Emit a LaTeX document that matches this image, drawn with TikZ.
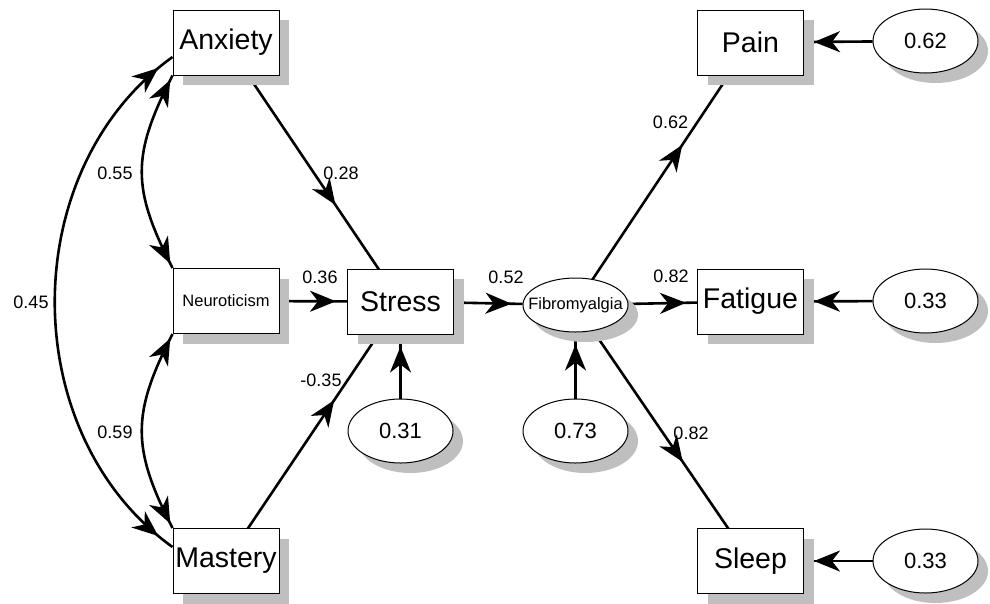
\documentclass[tikz,border=0pt]{standalone}
\usepackage{fontspec}
\setmainfont{Liberation Sans}
\usepackage{tikz}
\usetikzlibrary{arrows.meta,backgrounds,calc,decorations.markings,shadows,shapes.geometric,positioning}

\begin{document}
\begin{tikzpicture}[x=1pt,y=-1pt,>={Stealth[length=26pt,width=21pt,inset=8pt]},
  var/.style={draw,line width=1pt,fill=white,minimum width=106pt,minimum height=65pt,inner sep=0pt,font=\fontsize{28.5}{30}\selectfont,
    drop shadow={shadow xshift=10pt,shadow yshift=-10pt,fill=black!25,opacity=1}},
  err/.style={var,ellipse,minimum width=105pt,minimum height=64pt,font=\fontsize{22}{24}\selectfont},
  coef/.style={inner sep=0pt,font=\fontsize{18}{20}\selectfont},
  small/.style={font=\fontsize{16.5}{18}\selectfont},
  link/.style={line width=2.6pt},
  tipat/.style={decoration={markings,mark=at position #1 with {\arrow{>}}},postaction={decorate}},
  bothtips/.style={decoration={markings,mark=at position #1 with {\arrowreversed{>}},mark=at position -#1 with {\arrow{>}}},postaction={decorate}}]
\useasboundingbox (0,0) rectangle (990,603);
\node[var] (Anxiety) at (226,42.5) {Anxiety};
\node[var,small] (Neuroticism) at (226,301) {Neuroticism};
\node[var] (Mastery) at (226,561) {Mastery};
\node[var] (Stress) at (400.5,301.5) {Stress};
\node[err,small,minimum height=54pt] (Fib) at (575.5,305) {\makebox[0pt]{Fibromyalgia}};
\node[err] (eStress) at (400.5,431) {0.31};
\node[err] (eFib) at (575.5,431) {0.73};
\node[var] (Pain) at (750.5,42.5) {Pain};
\node[var] (Fatigue) at (750.5,301.5) {Fatigue};
\node[var] (Sleep) at (750.5,561) {Sleep};
\node[err] (ePain) at (925.5,41) {0.62};
\node[err] (eFatigue) at (925.5,301) {0.33};
\node[err] (eSleep) at (925.5,561) {0.33};
\begin{scope}[on background layer]
\draw[link,tipat=0.627] (Anxiety.center) -- (Stress.center);
\draw[link,tipat=0.62] (Mastery.center) -- (Stress.center);
\draw[link,tipat=-11pt] (Neuroticism) -- (Stress);
\draw[link,tipat=-11pt] (Stress) -- (Fib);
\draw[link,tipat=-11pt] (Fib) -- (Fatigue);
\draw[link,tipat=0.61] (Fib.center) -- (Pain.center);
\draw[link,tipat=0.613] (Fib.center) -- (Sleep.center);
\draw[link,tipat=-12pt] (eStress) -- (Stress);
\draw[link,tipat=-12pt] (eFib) -- (Fib);
\draw[link,tipat=-10pt] (ePain) -- (Pain);
\draw[link,tipat=-10pt] (eFatigue) -- (Fatigue);
\draw[link,tipat=-10pt] (eSleep) -- (Sleep);
\draw[link,bothtips=5pt] (Anxiety.south west) .. controls +(-41,80) and +(-41,-80) .. (Neuroticism.north west);
\draw[link,bothtips=5pt] (Neuroticism.south west) .. controls +(-41,80) and +(-41,-80) .. (Mastery.north west);
\draw[link,bothtips=18pt] ([yshift=-14.5pt]Anxiety.west) .. controls +(-157,113) and +(-157,-113) .. ([yshift=14pt]Mastery.west);
\end{scope}
\node[coef] (c28) at (341,173) {0.28};
\node[coef] (c36) at (320,277) {0.36};
\node[coef] (c35) at (321,380) {-0.35};
\node[coef] (c52) at (506,277) {0.52};
\node[coef] (c62) at (670.5,122) {0.62};
\node[coef] (c82a) at (671,276) {0.82};
\node[coef] (c82b) at (691,433) {0.82};
\node[coef] (c55) at (115,173) {0.55};
\node[coef] (c59) at (115,432) {0.59};
\node[coef] (c45) at (31,302) {0.45};
\end{tikzpicture}
\end{document}
